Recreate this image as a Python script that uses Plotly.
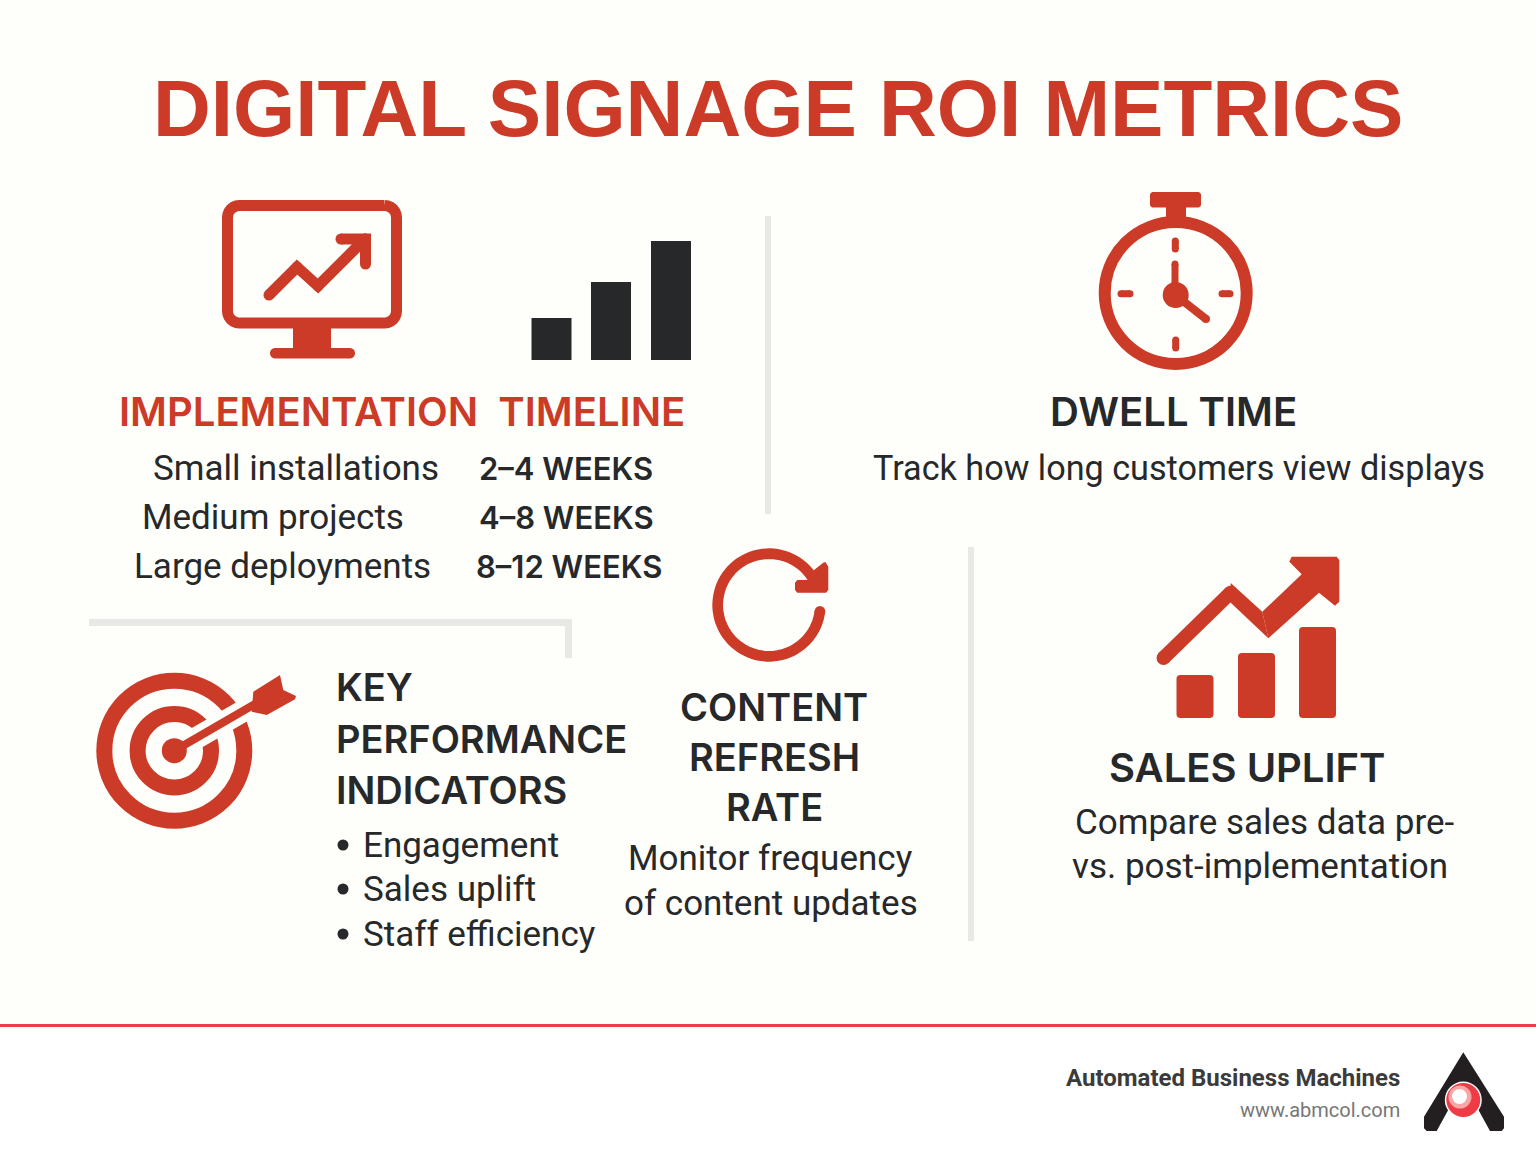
import numpy as np
import plotly.graph_objects as go

TITLE = "DIGITAL SIGNAGE ROI METRICS"
timeline_scales = ["Small installations", "Medium projects", "Large deployments"]
timeline_durations = ["2–4 WEEKS", "4–8 WEEKS", "8–12 WEEKS"]
kpi_heading = ["KEY", "PERFORMANCE", "INDICATORS"]
kpi_items = ["Engagement", "Sales uplift", "Staff efficiency"]
refresh_heading = ["CONTENT", "REFRESH", "RATE"]
refresh_body = ["Monitor frequency", "of content updates"]
sales_body = ["Compare sales data pre-", "vs. post-implementation"]
signal_bar_heights = [42, 78, 119]
sales_bar_heights = [43, 65, 91]

RED = "#CC3A28"
DARK = "#26282A"
BG = "#FEFEFA"
GREY = "#E8E8E6"
FONT = "Roboto"
HEAD = "Inter"

fig = go.Figure()
shapes = []
ann = []


def text(x, y, s, size, color=DARK, anchor="center", bold=False, family=FONT, weight=None):
    w = weight if weight else (700 if bold else 400)
    ann.append(dict(x=x, y=y, text=s, showarrow=False, xanchor=anchor, yanchor="middle",
                    xref="x", yref="y", borderpad=0, borderwidth=0,
                    font=dict(family=family, size=size, color=color, weight=w)))


def poly(points, color=RED, close=True):
    d = "M" + " L".join(f"{x:.1f},{y:.1f}" for x, y in points) + (" Z" if close else "")
    shapes.append(dict(type="path", path=d, fillcolor=color, line=dict(width=0), layer="above"))


def dot(x, y, r, color=RED):
    shapes.append(dict(type="circle", x0=x - r, x1=x + r, y0=y - r, y1=y + r,
                       fillcolor=color, line=dict(width=0), layer="above"))


def stroke(points, width, color=RED, round_caps=True):
    d = "M" + " L".join(f"{x:.1f},{y:.1f}" for x, y in points)
    shapes.append(dict(type="path", path=d, line=dict(color=color, width=width),
                       fillcolor="rgba(0,0,0,0)", layer="above"))
    if round_caps:
        for x, y in points:
            dot(x, y, width / 2, color)


def rect(x0, y0, x1, y1, color):
    shapes.append(dict(type="rect", x0=x0, x1=x1, y0=y0, y1=y1, fillcolor=color,
                       line=dict(width=0), layer="above"))


def ring(cx, cy, r, width, color=RED):
    shapes.append(dict(type="circle", x0=cx - r, x1=cx + r, y0=cy - r, y1=cy + r,
                       fillcolor="rgba(0,0,0,0)", line=dict(color=color, width=width), layer="above"))


def rrect(x0, y0, x1, y1, r, color=RED):
    a = np.linspace(0, np.pi / 2, 7)
    pts = []
    for cx, cy, start in [(x1 - r, y0 + r, -np.pi / 2), (x1 - r, y1 - r, 0),
                          (x0 + r, y1 - r, np.pi / 2), (x0 + r, y0 + r, np.pi)]:
        pts += [(cx + r * np.cos(start + t), cy + r * np.sin(start + t)) for t in a]
    poly(pts, color)


# page ground and footer
shapes.append(dict(type="rect", x0=0, x1=1536, y0=1027, y1=1154, fillcolor="#FFFFFF",
                   line=dict(width=0), layer="below"))
rect(0, 1024, 1536, 1027, "#F03E48")

# dividers
rect(765, 216, 771, 514, GREY)
rect(89, 619, 572, 626, GREY)
rect(565, 619, 572, 658, GREY)
rect(968, 547, 974, 941, GREY)

# monitor icon
a = np.linspace(0, np.pi / 2, 7)
r = 12
pts = []
for cx, cy, st in [(396.5 - r, 205.5 + r, -np.pi / 2), (396.5 - r, 323 - r, 0),
                   (227.5 + r, 323 - r, np.pi / 2), (227.5 + r, 205.5 + r, np.pi)]:
    pts += [(cx + r * np.cos(st + t), cy + r * np.sin(st + t)) for t in a]
stroke(pts + [pts[0]], 11, round_caps=False)
rect(293, 328, 331, 352, RED)
rrect(270, 348, 355, 358.5, 5)
stroke([(269, 295), (297, 267), (318, 286), (365, 239)], 11)
stroke([(341, 239), (365.5, 239), (365.5, 264)], 11)

# stopwatch icon
ring(1175.7, 293, 71, 12)
rrect(1150, 192, 1201, 207.5, 3)
rect(1166, 206, 1186, 221, RED)
stroke([(1175.3, 241), (1175.3, 249)], 7)
stroke([(1175.7, 340), (1175.7, 348)], 7)
stroke([(1121, 293.7), (1130, 293.7)], 7)
stroke([(1222, 293.7), (1230, 293.7)], 7)
stroke([(1175, 264), (1175, 290)], 7)
stroke([(1178, 297), (1206, 319)], 8)
dot(1175.7, 295, 13)

# target icon
ring(174.3, 750.7, 70, 16)
ring(174.3, 750.7, 36.7, 16)
ang = np.deg2rad(-30)
ux, uy = np.cos(ang), np.sin(ang)
stroke([(174.3 + 12 * ux, 750.7 + 12 * uy), (174.3 + 92 * ux, 750.7 + 92 * uy)], 22, BG, round_caps=False)
stroke([(174.3, 750.7), (255, 704)], 8, round_caps=False)
dot(174.3, 750.7, 12.5)
poly([(280, 675), (283.3, 690), (296, 696), (295, 699.3), (266.7, 715), (251.7, 711.7), (253.3, 691.7)])

# refresh icon
th = np.deg2rad(np.linspace(7, 328, 80))
stroke([(769 + 51.3 * np.cos(t), 605 + 51.3 * np.sin(t)) for t in th], 10.7, round_caps=False)
dot(769 + 51.3 * np.cos(th[0]), 605 + 51.3 * np.sin(th[0]), 5.3)
poly([(823.3, 562.7), (825.5, 562), (828.3, 566.7), (828.3, 590), (826, 592.7), (797.3, 592.7), (795, 590),
      (795, 582.7), (797.3, 580), (808, 580), (814, 570)])

# sales icon
stroke([(1163.5, 658), (1230.5, 592.7)], 14)
poly([(1230.7, 583), (1262.3, 611.7), (1268.3, 638.3), (1230, 602)])
poly([(1291.7, 556.7), (1336.7, 556.7), (1339.3, 560), (1339.3, 601.7), (1335, 605.7), (1319, 592.7),
      (1268.3, 638.3), (1262.3, 611.7), (1301.7, 574.3), (1289.3, 561.7)])

# logo
poly([(x / 3 + 1040, y / 3 + 1020) for x, y in
      [(1270, 97), (1392, 290), (1392, 325), (1385, 333), (1350, 333), (1310, 260), (1230, 260),
       (1190, 333), (1160, 333), (1152, 325), (1152, 290)]], "#231F20")
dot(1463.3, 1100, 18.5, "#FFFFFF")
dot(1463.3, 1100, 17, "#EE3B46")
dot(1460, 1097, 11.5, "#F7A5A5")
dot(1459.5, 1096.5, 7.5, "#FFFFFF")

# data bars
fig.add_trace(go.Bar(x=[551.5, 611, 671], y=[-h for h in signal_bar_heights], base=360, width=40,
                     marker=dict(color=DARK, line=dict(width=0)), hoverinfo="skip", showlegend=False))
fig.add_trace(go.Bar(x=[1195, 1256.5, 1317.5], y=[-h for h in sales_bar_heights], base=718, width=37,
                     marker=dict(color=RED, cornerradius=4, line=dict(width=0)), hoverinfo="skip", showlegend=False))

# text
text(778, 108, TITLE, 80, RED, bold=True, family="Liberation Sans")
text(402, 411, "IMPLEMENTATION  TIMELINE".replace("  ", "\u00a0\u00a0"), 40, RED, family=HEAD, weight=600)
text(1173, 411, "DWELL TIME", 40, family=HEAD, weight=600)
text(1179, 468, "Track how long customers view displays", 34.2)
for s, d, x0, x1, y in zip(timeline_scales, timeline_durations, [153, 142, 134], [479, 479, 476], [468, 517, 566]):
    text(x0, y, s, 35, anchor="left")
    text(x1, y, d, 31, anchor="left", family=HEAD, weight=600)
for s, y in zip(kpi_heading, [687, 739, 790]):
    text(336, y, s, 38, anchor="left", family=HEAD, weight=600)
for s, y in zip(kpi_items, [845, 889, 934]):
    dot(343, y, 5.5, DARK)
    text(363, y, s, 35, anchor="left")
for s, y in zip(refresh_heading, [707, 757, 807]):
    text(774, y, s, 38, family=HEAD, weight=600)
for s, x, y in zip(refresh_body, [770, 771], [858, 903]):
    text(x, y, s, 35)
text(1247, 767, "SALES UPLIFT", 40, family=HEAD, weight=600)
for s, x, y in zip(sales_body, [1264, 1260], [822, 866]):
    text(x, y, s, 35)
text(1400, 1078, "Automated Business Machines", 24, "#3B3B3B", anchor="right", bold=True)
text(1400, 1110, "www.abmcol.com", 20, "#777777", anchor="right")

fig.update_layout(width=1536, height=1154, autosize=False, margin=dict(l=0, r=0, t=0, b=0),
                  paper_bgcolor=BG, plot_bgcolor=BG, shapes=shapes, annotations=ann,
                  showlegend=False, hovermode=False,
                  xaxis=dict(range=[0, 1536], visible=False, fixedrange=True),
                  yaxis=dict(range=[1154, 0], visible=False, fixedrange=True))
fig.write_html("out.html", config={"displayModeBar": False},
               post_script="document.body.style.margin='0';document.documentElement.style.overflow='hidden';")
